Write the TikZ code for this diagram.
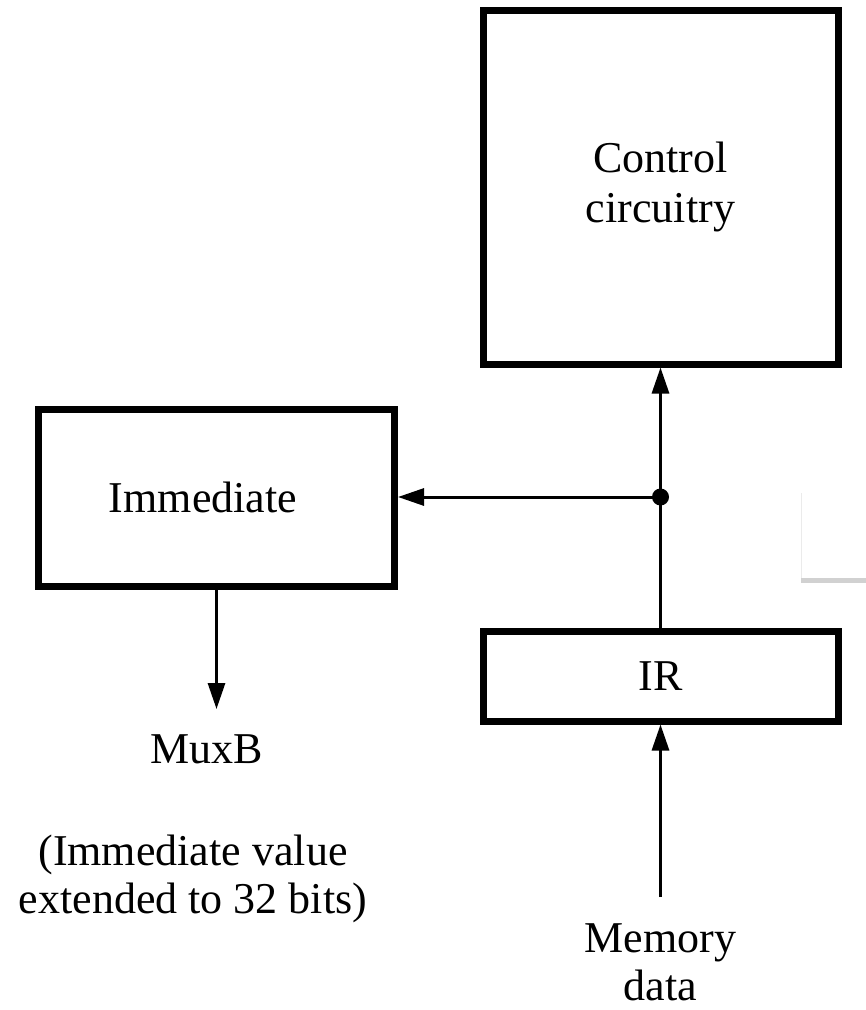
\documentclass[tikz,border=0pt]{standalone}
\usepackage{fontspec}
\setmainfont{Liberation Serif}
\usetikzlibrary{arrows.meta}
\begin{document}
\begin{tikzpicture}[x=1pt,y=-1pt,
  every node/.style={font=\fontsize{44}{50}\selectfont},
  box/.style={draw, line width=7pt, inner sep=0pt, align=center},
  txt/.style={inner sep=0pt, anchor=base},
  arr/.style={line width=3pt, -{Triangle[length=26pt,width=17pt]}},
  wire/.style={line width=3pt}]
\useasboundingbox (0,0) rectangle (866,1010);
% screenshot artifact
\fill[black!8] (800.5,493) rectangle (801.5,580);
\fill[black!18] (801,578) rectangle (866,583);
% boxes
\node[box, minimum width=355pt, minimum height=354pt] (ctrl) at (660.5,187) {Control\\circuitry};
\node[box, minimum width=356pt, minimum height=177pt] (imm) at (216.5,497.5) {};
\node[txt, anchor=center] (immtext) at (203,497.5) {Immediate};
\node[box, minimum width=355pt, minimum height=90pt] (ir) at (660.5,676) {IR};
% labels
\node[txt] (mux) at (207,763) {MuxB};
\node[txt] (ext1) at (193,865) {(Immediate value};
\node[txt] (ext2) at (193,913) {extended to 32 bits)};
\node[txt] (mem1) at (660.5,952) {Memory};
\node[txt] (mem2) at (660.5,1000) {data};
% coordinates
\coordinate (j) at (660.5,497);
\coordinate (muxtip) at (216.5,709);
\coordinate (memtop) at (660.5,897);
% connectors
\draw[arr] (ir.north) -- (ctrl.south);
\draw[arr] (j) -- (j -| imm.east);
\fill (j) circle (8.5pt);
\draw[arr] (imm.south) -- (muxtip);
\draw[arr] (memtop) -- (ir.south);
\end{tikzpicture}
\end{document}
